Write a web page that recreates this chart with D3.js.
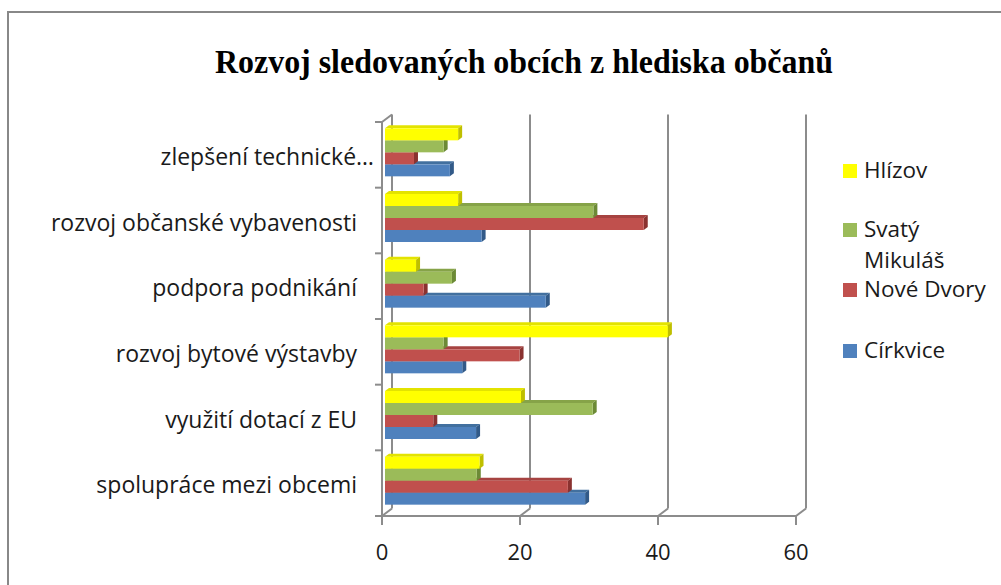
<!DOCTYPE html>
<html>
<head>
<meta charset="utf-8">
<script src="https://cdn.jsdelivr.net/npm/d3@7"></script>
<style>
  body { margin: 0; background: #fff; }
  svg { display: block; }
  .cat, .legend text, .tick-label { font-family: 'Open Sans', Lato, sans-serif; fill: #1a1a1a; }
</style>
</head>
<body>
<div id="chart"></div>
<script>
'use strict';

// data
var categories = ['zlepšení technické…', 'rozvoj občanské vybavenosti', 'podpora podnikání',
  'rozvoj bytové výstavby', 'využití dotací z EU', 'spolupráce mezi obcemi'];
var seriesNames = ['Hlízov', 'Svatý Mikuláš', 'Nové Dvory', 'Církvice'];
var hlizov = [10.6, 10.6, 4.5, 41.0, 19.7, 13.7];
var svatyMikulas = [8.5, 30.2, 9.7, 8.5, 30.1, 13.3];
var noveDvory = [4.2, 37.5, 5.6, 19.5, 7.0, 26.5];
var cirkvice = [9.4, 14.0, 23.3, 11.2, 13.2, 29.0];
var xTicks = [0, 20, 40, 60];

var seriesValues = [hlizov, svatyMikulas, noveDvory, cirkvice];
var colors = ['#FFFF00', '#9BBB59', '#C0504D', '#4F81BD'];
var topColors = ['#E3E300', '#86A348', '#A64341', '#42709F'];
var sideColors = ['#BFBF00', '#6C8A36', '#8A3230', '#325A88'];

var width = 1001, height = 585;
var svg = d3.select('#chart').append('svg')
  .attr('width', width)
  .attr('height', height);

// chart border
svg.append('rect')
  .attr('x', 8).attr('y', 12)
  .attr('width', 1010).attr('height', 600)
  .attr('fill', 'none')
  .attr('stroke', '#888')
  .attr('stroke-width', 2);

// title
svg.append('text')
  .attr('x', 215).attr('y', 73)
  .attr('textLength', 618)
  .attr('lengthAdjust', 'spacingAndGlyphs')
  .style('font-family', "'Liberation Serif', 'Times New Roman', serif")
  .style('font-weight', 'bold')
  .style('font-size', '33px')
  .style('fill', '#000')
  .text('Rozvoj sledovaných obcích z hlediska občanů');

// 3d geometry
var wall = {dx: 10, dy: -7.5};   // back wall offset
var barOff = {dx: 3, dy: -2.5};  // bars sit slightly behind the front
var depth = {dx: 4, dy: -3};     // bar depth

var x = d3.scaleLinear().domain([0, 60]).range([382, 796]);
var y = d3.scaleBand().domain(categories).range([122, 516]);
var inner = d3.scaleBand().domain(seriesNames).range([0, 48]);
var groupPad = (y.bandwidth() - 48) / 2;

var gridColor = '#8c8c8c';
var gridTop = y.range()[0] + wall.dy;
var gridBottom = y.range()[1] + wall.dy;

// back wall gridlines + floor diagonals
svg.append('g').selectAll('line')
  .data(xTicks)
  .enter().append('line')
  .attr('x1', function(d) { return x(d) + wall.dx; })
  .attr('x2', function(d) { return x(d) + wall.dx; })
  .attr('y1', gridTop)
  .attr('y2', gridBottom)
  .attr('stroke', gridColor)
  .attr('stroke-width', 2);

svg.append('g').selectAll('line')
  .data(xTicks)
  .enter().append('line')
  .attr('x1', function(d) { return x(d) + wall.dx; })
  .attr('x2', function(d) { return x(d); })
  .attr('y1', gridBottom)
  .attr('y2', y.range()[1])
  .attr('stroke', gridColor)
  .attr('stroke-width', 2);

// left wall: front axis, top diagonal
svg.append('line')
  .attr('x1', x(0)).attr('x2', x(0))
  .attr('y1', y.range()[0]).attr('y2', y.range()[1])
  .attr('stroke', gridColor).attr('stroke-width', 2);
svg.append('line')
  .attr('x1', x(0)).attr('x2', x(0) + wall.dx)
  .attr('y1', y.range()[0]).attr('y2', gridTop)
  .attr('stroke', gridColor).attr('stroke-width', 2);

// bottom axis line
svg.append('line')
  .attr('x1', x(0) - 1).attr('x2', x(60))
  .attr('y1', y.range()[1]).attr('y2', y.range()[1])
  .attr('stroke', gridColor).attr('stroke-width', 2);

// category ticks
var catTicks = categories.map(function(c) { return y(c); }).concat([y.range()[1]]);
svg.append('g').selectAll('line')
  .data(catTicks)
  .enter().append('line')
  .attr('x1', x(0) - 7).attr('x2', x(0))
  .attr('y1', function(d) { return d; })
  .attr('y2', function(d) { return d; })
  .attr('stroke', gridColor).attr('stroke-width', 2);

// value ticks
svg.append('g').selectAll('line')
  .data(xTicks)
  .enter().append('line')
  .attr('x1', function(d) { return x(d); })
  .attr('x2', function(d) { return x(d); })
  .attr('y1', y.range()[1])
  .attr('y2', y.range()[1] + 9)
  .attr('stroke', gridColor).attr('stroke-width', 2);

svg.append('g').selectAll('text')
  .data(xTicks)
  .enter().append('text')
  .attr('class', 'tick-label')
  .attr('x', function(d) { return x(d); })
  .attr('y', 560)
  .attr('text-anchor', 'middle')
  .style('font-size', '22px')
  .text(function(d) { return d; });

// category labels
svg.append('g').selectAll('text')
  .data(categories)
  .enter().append('text')
  .attr('class', 'cat')
  .attr('x', function(d) { return /…$/.test(d) ? 374 : 357; })
  .attr('y', function(d) { return y(d) + y.bandwidth() / 2 + 10; })
  .attr('text-anchor', 'end')
  .style('font-size', '23px')
  .text(function(d) { return d; });

// bars, drawn bottom series first so upper bars hide the top faces below
var bars = [];
seriesNames.forEach(function(s, si) {
  categories.forEach(function(c, ci) {
    bars.push({series: s, si: si, cat: c, value: seriesValues[si][ci]});
  });
});
bars.sort(function(a, b) { return b.si - a.si; });

var barG = svg.append('g');
bars.forEach(function(d) {
  var x0 = x(0) + barOff.dx;
  var x1 = x(d.value) + barOff.dx;
  var y0 = y(d.cat) + groupPad + barOff.dy + inner(d.series);
  var h = inner.bandwidth();
  var g = barG.append('g');
  // top face
  g.append('path')
    .attr('d', 'M' + x0 + ',' + y0 + 'L' + (x0 + depth.dx) + ',' + (y0 + depth.dy) +
      'L' + (x1 + depth.dx) + ',' + (y0 + depth.dy) + 'L' + x1 + ',' + y0 + 'Z')
    .attr('fill', topColors[d.si]);
  // side face
  g.append('path')
    .attr('d', 'M' + x1 + ',' + y0 + 'L' + (x1 + depth.dx) + ',' + (y0 + depth.dy) +
      'L' + (x1 + depth.dx) + ',' + (y0 + h + depth.dy) + 'L' + x1 + ',' + (y0 + h) + 'Z')
    .attr('fill', sideColors[d.si]);
  // front face
  g.append('rect')
    .attr('x', x0).attr('y', y0)
    .attr('width', x1 - x0).attr('height', h)
    .attr('fill', colors[d.si]);
});

// legend
var legendRows = [
  {si: 0, lines: ['Hlízov'], y: 178},
  {si: 1, lines: ['Svatý', 'Mikuláš'], y: 237},
  {si: 2, lines: ['Nové Dvory'], y: 297},
  {si: 3, lines: ['Církvice'], y: 358}
];
var legend = svg.append('g').attr('class', 'legend');
legendRows.forEach(function(r) {
  legend.append('rect')
    .attr('x', 843).attr('y', r.y - 14)
    .attr('width', 14).attr('height', 14)
    .attr('fill', colors[r.si]);
  var t = legend.append('text')
    .attr('x', 864).attr('y', r.y)
    .style('font-size', '22.5px');
  r.lines.forEach(function(l, i) {
    t.append('tspan')
      .attr('x', 864)
      .attr('dy', i === 0 ? 0 : 31)
      .text(l);
  });
});
</script>
</body>
</html>
